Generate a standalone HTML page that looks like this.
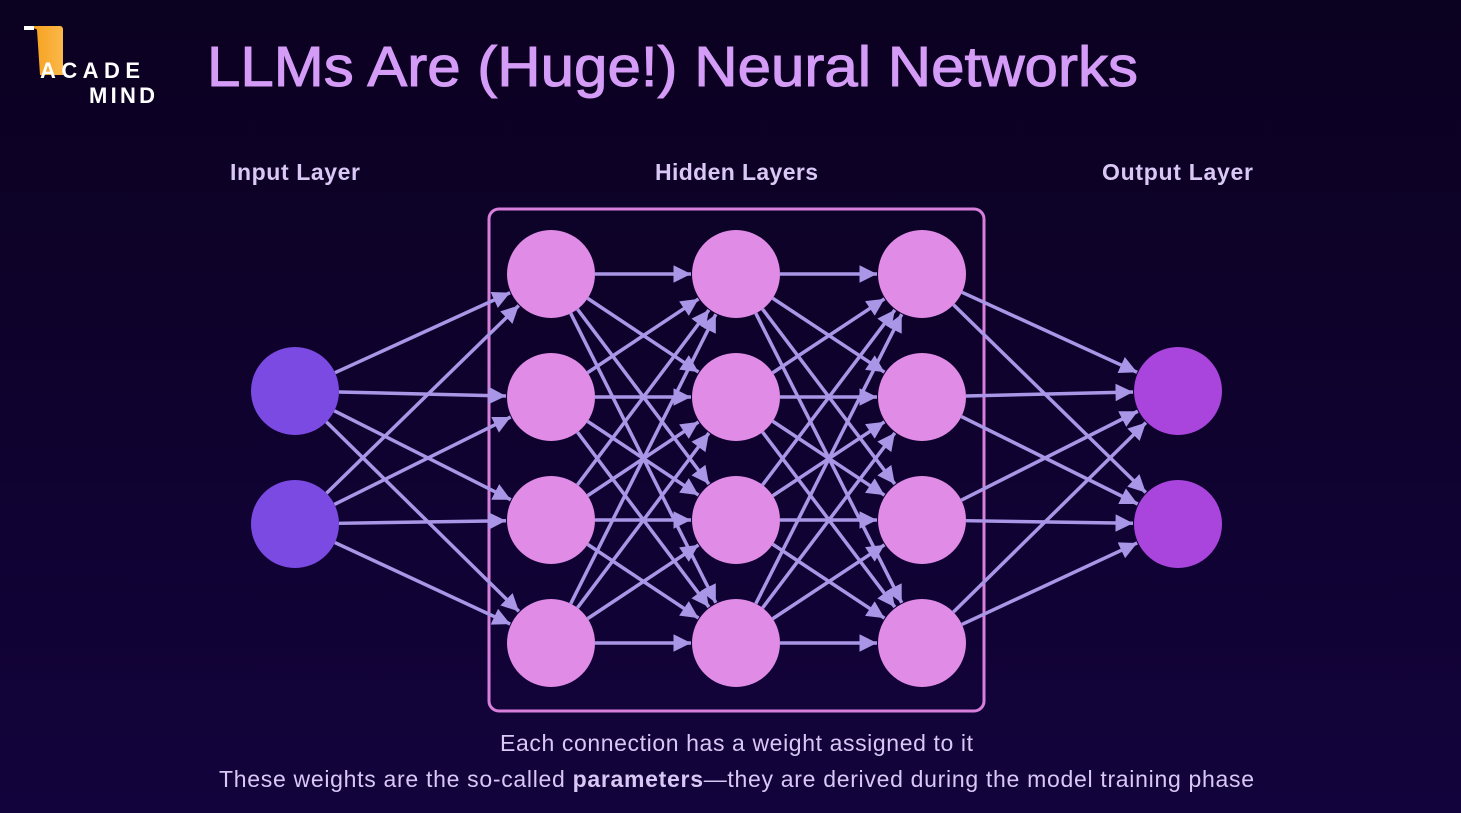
<!DOCTYPE html>
<html><head><meta charset="utf-8"><style>
html,body{margin:0;padding:0}
body{width:1461px;height:813px;overflow:hidden;background:linear-gradient(#0b0120,#13033c);font-family:"Liberation Sans",sans-serif;position:relative}
</style></head><body>
<svg width="1461" height="813" style="position:absolute;left:0;top:0">
<defs>
<linearGradient id="lg" x1="0" x2="1"><stop offset="0" stop-color="#f59a10"/><stop offset="1" stop-color="#fbb84a"/></linearGradient>
<marker id="ah" viewBox="0 0 10 10" refX="10" refY="5" markerWidth="5" markerHeight="5" markerUnits="strokeWidth" orient="auto"><path d="M0,0 L10,5 L0,10 z" fill="#a996e6"/></marker>
</defs>
<path d="M24,26 L60,26 Q63,26 63,30 L63,75 L40,75 L37,30 Q36,27 24,30 Z" fill="url(#lg)"/>
<path d="M24,26 L34,26 L34,30 L24,30 Z" fill="#fff"/>
<rect x="489" y="209" width="495" height="502" rx="10" fill="none" stroke="#d77fdb" stroke-width="3"/>
<g id="lines" stroke="#a996e6" stroke-width="3.5" marker-end="url(#ah)"></g>
<g id="nodes"></g>
<text x="207" y="86" font-family="Liberation Sans" font-size="57" fill="#d59cf7" stroke="#d59cf7" stroke-width="1" textLength="931" lengthAdjust="spacingAndGlyphs">LLMs Are (Huge!) Neural Networks</text>
<text x="40" y="78" font-family="Liberation Sans" font-weight="bold" font-size="22" fill="#fff" textLength="100" lengthAdjust="spacing">ACADE</text>
<text x="89" y="103" font-family="Liberation Sans" font-weight="bold" font-size="22" fill="#fff" textLength="66" lengthAdjust="spacing">MIND</text>
<g font-family="Liberation Sans" font-weight="bold" font-size="23" fill="#d9c8f5" lengthAdjust="spacingAndGlyphs">
<text x="230" y="180" textLength="130">Input Layer</text>
<text x="655" y="180" textLength="163">Hidden Layers</text>
<text x="1102" y="180" textLength="151">Output Layer</text>
</g>
<g font-family="Liberation Sans" font-size="23" fill="#d9c8f5" lengthAdjust="spacingAndGlyphs">
<text x="500" y="751" textLength="473">Each connection has a weight assigned to it</text>
<text x="219" y="787" textLength="1035">These weights are the so-called <tspan font-weight="bold">parameters</tspan>—they are derived during the model training phase</text>
</g>
</svg>
<script>
var r=44,L=[[295,[391,524],"#7b4ae2"],[551,[274,397,520,643],"#e08be6"],[736,[274,397,520,643],"#e08be6"],[922,[274,397,520,643],"#e08be6"],[1178,[391,524],"#a945dd"]];
var ns="http://www.w3.org/2000/svg",g=document.getElementById("lines"),n=document.getElementById("nodes");
for(var i=0;i<L.length-1;i++){var a=L[i],b=L[i+1];a[1].forEach(function(y1){b[1].forEach(function(y2){
var dx=b[0]-a[0],dy=y2-y1,d=Math.hypot(dx,dy),ux=dx/d,uy=dy/d;
var l=document.createElementNS(ns,"line");l.setAttribute("x1",a[0]+ux*r);l.setAttribute("y1",y1+uy*r);l.setAttribute("x2",b[0]-ux*(r+1));l.setAttribute("y2",y2-uy*(r+1));g.appendChild(l);});});}
L.forEach(function(c){c[1].forEach(function(y){var e=document.createElementNS(ns,"circle");e.setAttribute("cx",c[0]);e.setAttribute("cy",y);e.setAttribute("r",r);e.setAttribute("fill",c[2]);n.appendChild(e);});});
</script>
</body></html>
